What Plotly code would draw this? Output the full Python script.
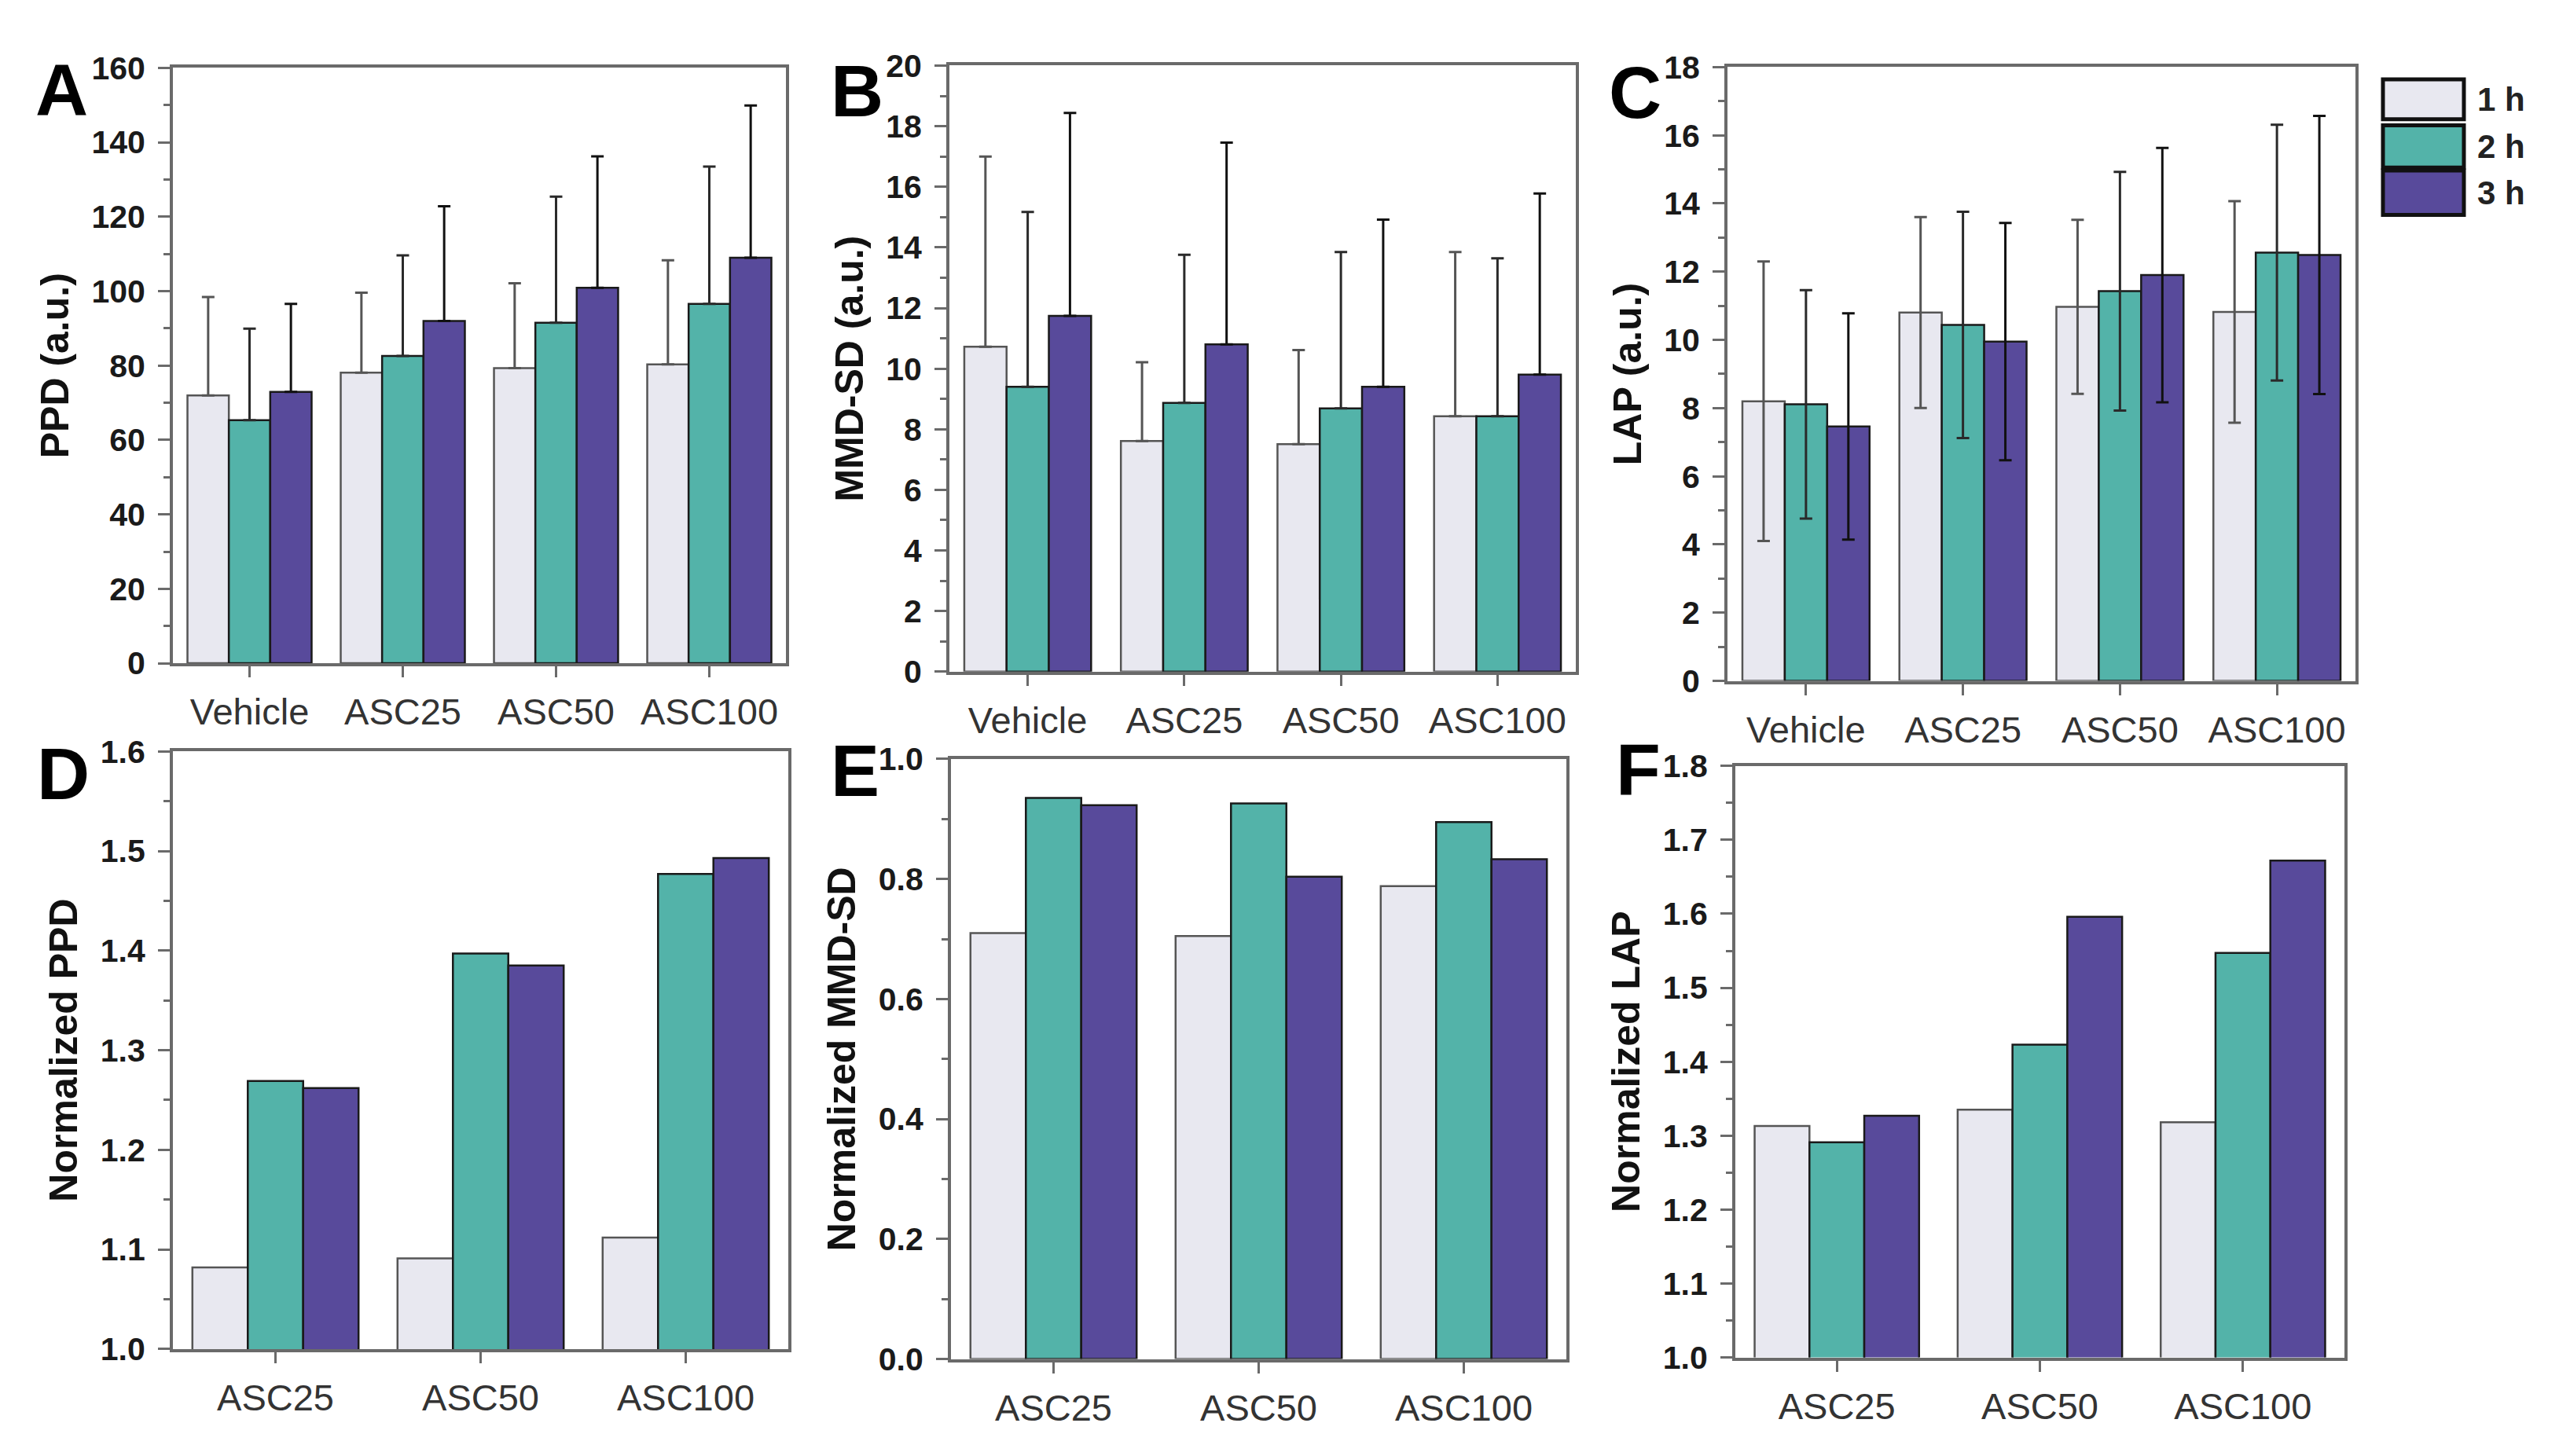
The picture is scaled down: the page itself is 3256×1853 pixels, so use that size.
import plotly.graph_objects as go

# ---------------- data ----------------
groups_top = ["Vehicle", "ASC25", "ASC50", "ASC100"]
groups_bottom = ["ASC25", "ASC50", "ASC100"]
series_names = ["1 h", "2 h", "3 h"]
series_colors = ["#E8E8F0", "#53B3A9", "#584A9B"]

# Panel A: PPD (a.u.)
ppd_1h = [72.0, 78.1, 79.3, 80.3]
ppd_2h = [65.3, 82.6, 91.5, 96.6]
ppd_3h = [72.9, 92.0, 100.9, 109.0]
ppd_err_1h = [26.4, 21.5, 22.8, 28.0]
ppd_err_2h = [24.6, 27.0, 33.9, 36.9]
ppd_err_3h = [23.7, 30.8, 35.3, 40.9]

# Panel B: MMD-SD (a.u.)
mmd_1h = [10.72, 7.61, 7.51, 8.43]
mmd_2h = [9.40, 8.87, 8.69, 8.43]
mmd_3h = [11.74, 10.80, 9.40, 9.80]
mmd_err_1h = [6.28, 2.60, 3.10, 5.42]
mmd_err_2h = [5.77, 4.89, 5.16, 5.21]
mmd_err_3h = [6.70, 6.66, 5.52, 5.98]

# Panel C: LAP (a.u.)
lap_1h = [8.20, 10.80, 10.97, 10.82]
lap_2h = [8.11, 10.44, 11.43, 12.56]
lap_3h = [7.46, 9.95, 11.90, 12.49]
lap_err_1h = [4.10, 2.80, 2.55, 3.25]
lap_err_2h = [3.35, 3.32, 3.50, 3.75]
lap_err_3h = [3.32, 3.48, 3.73, 4.08]

# Panel D: Normalized PPD
nppd_1h = [1.082, 1.091, 1.112]
nppd_2h = [1.269, 1.397, 1.477]
nppd_3h = [1.262, 1.385, 1.493]

# Panel E: Normalized MMD-SD
nmmd_1h = [0.710, 0.705, 0.788]
nmmd_2h = [0.935, 0.926, 0.895]
nmmd_3h = [0.923, 0.804, 0.833]

# Panel F: Normalized LAP
nlap_1h = [1.313, 1.335, 1.318]
nlap_2h = [1.291, 1.423, 1.547]
nlap_3h = [1.327, 1.596, 1.672]

FONT = "Liberation Sans, Arial, sans-serif"
AXC = "#6a6a6a"
W, H = 3256, 1853

fig = go.Figure()

panels = [
    ("", groups_top, [ppd_1h, ppd_2h, ppd_3h], [ppd_err_1h, ppd_err_2h, ppd_err_3h], False),
    ("2", groups_top, [mmd_1h, mmd_2h, mmd_3h], [mmd_err_1h, mmd_err_2h, mmd_err_3h], False),
    ("3", groups_top, [lap_1h, lap_2h, lap_3h], [lap_err_1h, lap_err_2h, lap_err_3h], True),
    ("4", groups_bottom, [nppd_1h, nppd_2h, nppd_3h], None, False),
    ("5", groups_bottom, [nmmd_1h, nmmd_2h, nmmd_3h], None, False),
    ("6", groups_bottom, [nlap_1h, nlap_2h, nlap_3h], None, False),
]

line_cols = ["#555555", "#1a1a1a", "#1a1a1a"]
err_cols = ["#555555", "#2a2a2a", "#111111"]

for suf, cats, vals, errs, sym in panels:
    for i in range(3):
        kw = {}
        if errs is not None:
            if sym:
                kw["error_y"] = dict(type="data", array=errs[i], symmetric=True,
                                     color=err_cols[i], thickness=3, width=8)
            else:
                kw["error_y"] = dict(type="data", array=errs[i], arrayminus=[0] * len(cats),
                                     symmetric=False, color=err_cols[i], thickness=3, width=8)
        fig.add_trace(go.Bar(
            x=cats, y=vals[i], name=series_names[i],
            marker=dict(color=series_colors[i], line=dict(color=line_cols[i], width=2.5)),
            xaxis="x" + suf, yaxis="y" + suf, offsetgroup=str(i),
            showlegend=False, **kw))


def px_dom(a, b):
    return [a / W, b / W]


def py_dom(top, bottom):
    return [1 - bottom / H, 1 - top / H]


def xax(domain, anchor):
    return dict(domain=domain, anchor=anchor, type="category",
                showline=True, mirror=True, linecolor=AXC, linewidth=4,
                ticks="outside", ticklen=14, tickwidth=3, tickcolor=AXC,
                ticklabelstandoff=4,
                showgrid=False, zeroline=False,
                tickfont=dict(family=FONT, size=47, color="#333333"))


def yax(domain, anchor, rng, dtick, minor, fmt, title):
    return dict(domain=domain, anchor=anchor, range=rng, dtick=dtick, tick0=rng[0],
                tickformat=fmt, showgrid=False, zeroline=False,
                showline=True, mirror=True, linecolor=AXC, linewidth=4,
                ticks="outside", ticklen=15, tickwidth=3, tickcolor=AXC,
                ticklabelstandoff=8,
                minor=dict(ticks="outside", dtick=minor, tick0=rng[0], ticklen=8,
                           tickwidth=3, tickcolor=AXC, showgrid=False),
                tickfont=dict(family=FONT, size=41, color="#1a1a1a", weight="bold"),
                title=dict(text=title, standoff=14,
                           font=dict(family=FONT, size=50, color="#111111", weight="bold")))


fig.update_layout(
    width=W, height=H,
    margin=dict(l=0, r=0, t=0, b=0),
    paper_bgcolor="white", plot_bgcolor="white",
    barmode="group", bargap=0.19, bargroupgap=0,
    showlegend=False,
    font=dict(family=FONT),
    xaxis=xax(px_dom(220, 1000), "y"),
    yaxis=yax(py_dom(65, 842), "x", [0, 160], 20, 10, "d", "PPD (a.u.)"),
    xaxis2=xax(px_dom(1208, 2005), "y2"),
    yaxis2=yax(py_dom(62, 853), "x2", [0, 20], 2, 1, "d", "MMD-SD (a.u.)"),
    xaxis3=xax(px_dom(2198, 2997), "y3"),
    yaxis3=yax(py_dom(64, 865), "x3", [0, 18], 2, 1, "d", "LAP (a.u.)"),
    xaxis4=xax(px_dom(220, 1003), "y4"),
    yaxis4=yax(py_dom(957, 1737), "x4", [1.0, 1.6], 0.1, 0.05, ".1f", "Normalized PPD"),
    xaxis5=xax(px_dom(1210, 1993), "y5"),
    yaxis5=yax(py_dom(967, 1750), "x5", [0.0, 1.0], 0.2, 0.1, ".1f", "Normalized MMD-SD"),
    xaxis6=xax(px_dom(2208, 2983), "y6"),
    yaxis6=yax(py_dom(976, 1748), "x6", [1.0, 1.8], 0.1, 0.05, ".1f", "Normalized LAP"),
)

# panel letters
letters = [("A", 78, 93), ("B", 1090, 95), ("C", 2080, 97),
           ("D", 80, 987), ("E", 1088, 982), ("F", 2084, 980)]
for t, lx, ly in letters:
    fig.add_annotation(text="<b>%s</b>" % t, xref="paper", yref="paper",
                       x=lx / W, y=1 - ly / H, xanchor="center", yanchor="middle",
                       showarrow=False, borderpad=0,
                       font=dict(family=FONT, size=93, color="#000000"))

# legend (boxes + labels)
leg_boxes = [(80, 132), (140, 195), (199, 257)]
for i, (y0, y1) in enumerate(leg_boxes):
    fig.add_shape(type="rect", xref="paper", yref="paper",
                  x0=3032 / W, x1=3135 / W, y0=1 - y1 / H, y1=1 - y0 / H,
                  fillcolor=series_colors[i], line=dict(color="#111111", width=5))
    fig.add_annotation(text="<b>%s</b>" % series_names[i], xref="paper", yref="paper",
                       x=3150 / W, y=1 - ((y0 + y1) / 2) / H,
                       xanchor="left", yanchor="middle", showarrow=False,
                       font=dict(family=FONT, size=42, color="#222222"))

fig.write_html("out.html",
               config={"displayModeBar": False},
               post_script="document.body.style.margin='0';document.body.style.overflow='hidden';")
